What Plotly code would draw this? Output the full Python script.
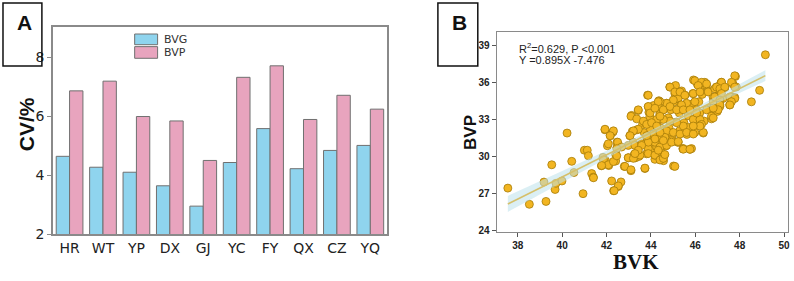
import numpy as np
import plotly.graph_objects as go

# ---------------- Panel A data ----------------
regions = ["HR", "WT", "YP", "DX", "GJ", "YC", "FY", "QX", "CZ", "YQ"]
bvg = [4.64, 4.27, 4.10, 3.64, 2.95, 4.43, 5.58, 4.22, 4.84, 5.01]
bvp_cv = [6.86, 7.19, 5.99, 5.84, 4.50, 7.32, 7.71, 5.89, 6.71, 6.24]
a_yticks = [2, 4, 6, 8]

# ---------------- Panel B data ----------------
bvk = [37.55, 38.52, 39.27, 39.18, 39.53, 39.68, 39.72, 39.99, 40.22, 40.43,
       40.53, 40.94, 41.00, 41.13, 41.18, 41.33, 41.40, 41.77, 41.84, 41.93,
       41.95, 42.04, 42.10, 42.17, 42.29, 42.23, 42.32, 42.41, 42.47, 42.47,
       42.53, 42.65, 42.41, 42.80, 42.98, 43.05, 43.10, 43.13, 43.16, 43.20,
       43.25, 43.31, 43.37, 43.43, 43.46, 43.43, 43.62, 43.70, 43.73, 43.76,
       43.80, 43.85, 43.88, 43.91, 43.95, 43.98, 44.03, 44.06, 44.12, 44.18,
       44.18, 44.26, 44.32, 44.36, 44.40, 44.45, 44.48, 44.55, 44.57, 44.60,
       44.63, 44.67, 44.70, 44.78, 44.81, 44.85, 44.90, 44.93, 44.96, 45.02,
       45.05, 45.08, 45.11, 45.15, 45.20, 45.23, 45.28, 45.30, 45.35, 45.38,
       45.44, 45.49, 45.53, 45.56, 45.62, 45.68, 45.76, 45.80, 45.83, 45.89,
       45.92, 45.95, 45.98, 46.05, 46.10, 46.16, 46.20, 46.25, 46.31, 46.36,
       46.40, 46.43, 46.50, 46.58, 46.65, 46.73, 46.80, 46.88, 46.95, 46.99,
       47.06, 47.10, 47.15, 47.21, 47.25, 47.33, 47.55, 47.63, 47.70, 47.78,
       47.85, 47.81, 48.53, 48.90, 49.16,
       45.98, 46.28, 46.51, 46.13, 44.86, 45.08, 45.31, 45.53, 45.91, 46.21,
       46.58, 46.88, 47.18, 47.26, 47.03, 46.96, 46.81, 47.11, 46.66, 46.51,
       46.73, 46.36, 45.91, 46.21, 45.61, 45.38, 45.01, 44.71, 44.41, 44.33,
       44.56, 44.86, 45.16, 45.46, 45.76, 45.98, 46.06, 46.28, 45.68, 45.46,
       45.16, 44.86, 44.56, 44.26, 44.41, 44.71, 45.01, 45.31, 45.61, 45.91,
       45.23, 44.93, 44.63, 44.33, 44.26, 44.56, 45.46, 45.83, 46.21, 45.91,
       43.88, 43.43, 43.10, 43.36, 43.88, 43.96, 44.33, 44.18, 44.41, 43.66,
       43.81, 44.03, 44.26, 43.43, 43.21, 43.06, 41.93, 42.31, 42.16, 42.50,
       42.08, 42.98, 43.28, 43.58, 43.81, 44.11, 44.41, 44.18, 44.41, 43.88,
       42.68,
       47.78, 47.63, 47.18, 46.96, 47.11, 47.33, 47.78, 46.88, 47.18, 47.56,
       47.78, 47.63, 47.11, 47.56, 47.11, 47.03, 46.81, 46.81,
       42.46, 41.86, 42.08, 41.78, 42.31, 42.46, 41.41, 42.83, 43.10, 43.73,
       45.08, 42.53, 42.34, 42.98, 43.21, 43.51, 43.88, 44.18, 44.41, 44.56,
       44.63, 44.33, 45.46, 45.76, 44.71, 44.18, 43.88, 43.58, 43.43, 43.28,
       43.81, 44.56, 44.93, 45.23]
bvp = [27.41, 26.10, 26.33, 27.90, 29.30, 27.30, 27.80, 27.99, 31.87, 29.58,
       28.67, 26.96, 30.48, 30.48, 30.03, 28.59, 28.30, 29.22, 29.90, 32.13,
       29.64, 30.84, 29.24, 31.66, 31.95, 27.99, 27.20, 30.14, 31.13, 30.69,
       27.54, 27.91, 29.60, 29.17, 29.87, 31.66, 28.82, 33.30, 32.00, 31.13,
       30.13, 29.87, 32.13, 30.82, 29.98, 33.70, 32.55, 31.90, 29.00, 32.66,
       30.19, 34.94, 34.00, 33.55, 33.18, 32.18, 31.34, 30.60, 34.10, 29.74,
       30.08, 32.63, 31.13, 34.49, 33.39, 30.35, 32.23, 33.76, 29.63, 30.08,
       31.66, 30.82, 34.28, 33.10, 32.32, 35.60, 33.76, 31.87, 31.40, 29.20,
       34.40, 35.07, 35.72, 32.76, 31.13, 34.67, 33.50, 32.06, 34.15, 35.28,
       30.60, 32.70, 34.94, 33.76, 31.76, 33.28, 30.55, 32.32, 34.21, 35.07,
       36.17, 32.92, 31.92, 33.76, 35.80, 34.40, 33.50, 35.65, 35.00, 31.87,
       32.84, 35.98, 35.72, 35.28, 33.76, 33.02, 34.80, 33.76, 35.60, 33.62,
       35.07, 34.15, 35.90, 35.65, 34.67, 35.54, 34.15, 34.80, 35.85, 34.75,
       35.60, 36.46, 34.40, 35.33, 38.21,
       36.11, 35.98, 35.85, 35.72, 35.59, 35.20, 35.20, 34.93, 35.07, 35.20,
       35.20, 35.46, 35.98, 35.59, 35.59, 34.80, 34.41, 34.02, 33.88, 33.75,
       33.23, 31.92, 32.97, 32.97, 34.28, 34.15, 34.54, 34.28, 34.41, 34.02,
       33.75, 34.02, 33.75, 33.75, 33.75, 34.41, 33.49, 32.57, 32.31, 32.44,
       32.71, 32.84, 32.97, 32.97, 32.31, 32.05, 31.92, 31.79, 31.92, 31.79,
       31.13, 31.26, 31.52, 31.52, 30.74, 30.87, 30.61, 30.61, 32.44, 32.44,
       34.93, 33.75, 33.23, 33.02, 34.02, 33.49, 34.41, 33.88, 33.23, 32.84,
       32.57, 32.71, 32.44, 32.18, 32.05, 31.66, 32.18, 32.05, 31.66, 31.13,
       31.00, 30.87, 30.87, 31.00, 31.52, 31.79, 31.92, 31.13, 30.74, 30.61,
       30.74,
       36.51, 35.98, 35.98, 35.59, 35.46, 35.59, 35.59, 34.80, 35.07, 34.80,
       34.67, 34.41, 34.54, 34.15, 34.15, 33.76, 33.89, 33.10,
       30.61, 29.69, 29.30, 29.24, 29.56, 30.03, 28.25, 29.17, 28.90, 29.03,
       29.17, 27.59, 27.20, 29.87, 29.82, 30.08, 30.21, 30.08, 29.69, 29.82,
       30.13, 30.48, 30.56, 30.56, 30.87, 31.39, 31.13, 30.87, 30.48, 30.21,
       31.66, 31.26, 31.13, 31.18]
slope, intercept = 0.895, -7.476
b_xticks = [38, 40, 42, 44, 46, 48, 50]
b_yticks = [24, 27, 30, 33, 36, 39]

W, H = 794, 281
def px(x):
    return x / W
def py(y):
    return 1 - y / H

fig = go.Figure()

# ---- Panel A bars ----
fig.add_trace(go.Bar(x=regions, y=bvg, name="BVG", marker=dict(color="#8fd4ee", line=dict(color="#707070", width=1)),
                     xaxis="x", yaxis="y", showlegend=False))
fig.add_trace(go.Bar(x=regions, y=bvp_cv, name="BVP", marker=dict(color="#e8a4be", line=dict(color="#707070", width=1)),
                     xaxis="x", yaxis="y", showlegend=False))

# ---- Panel B scatter ----
xa = np.array(bvk)
ya = np.array(bvp)
fig.add_trace(go.Scatter(x=bvk, y=bvp, mode="markers",
                         marker=dict(size=8, color="#f2b521", line=dict(color="#a67c0a", width=0.8)),
                         xaxis="x2", yaxis="y2", showlegend=False))

# regression line and confidence band
n = len(xa)
resid = ya - (slope * xa + intercept)
s = np.sqrt(np.sum(resid ** 2) / (n - 2))
xbar = xa.mean()
sxx = np.sum((xa - xbar) ** 2)
xg = np.linspace(xa.min(), xa.max(), 60)
yg = slope * xg + intercept
hw = 1.97 * s * np.sqrt(1.0 / n + (xg - xbar) ** 2 / sxx)
fig.add_trace(go.Scatter(x=np.concatenate([xg, xg[::-1]]), y=np.concatenate([yg + hw, (yg - hw)[::-1]]),
                         fill="toself", fillcolor="rgba(190,225,235,0.55)", line=dict(width=0),
                         mode="lines", hoverinfo="skip", xaxis="x2", yaxis="y2", showlegend=False))
fig.add_trace(go.Scatter(x=xg, y=yg, mode="lines", line=dict(color="#d6c06a", width=1.6),
                         xaxis="x2", yaxis="y2", showlegend=False))

axcol = "#8a8a8a"
fig.update_layout(
    width=W, height=H, margin=dict(l=0, r=0, t=0, b=0),
    paper_bgcolor="white", plot_bgcolor="white",
    barmode="group", bargap=0.2, bargroupgap=0,
    xaxis=dict(domain=[px(53), px(388)], anchor="y", range=[-0.5, 9.5], showline=True, mirror=True,
               linecolor=axcol, linewidth=1.5, ticks="", showgrid=False,
               tickfont=dict(family="DejaVu Sans", size=14, color="#222")),
    yaxis=dict(domain=[py(241), py(28)], anchor="x", range=[2, 9.02], tickvals=a_yticks, showline=True, mirror=True,
               linecolor=axcol, linewidth=1.5, ticks="outside", ticklen=4, tickcolor=axcol, showgrid=False,
               zeroline=False, tickfont=dict(family="DejaVu Sans", size=14, color="#222")),
    xaxis2=dict(domain=[px(498), px(790)], anchor="y2", range=[37.05, 50.18], tickvals=b_xticks, showline=True,
                mirror=True, linecolor=axcol, linewidth=1.2, ticks="outside", ticklen=4, tickcolor="#555",
                showgrid=False, zeroline=False,
                tickfont=dict(family="Liberation Sans", size=10, color="#222", weight="bold")),
    yaxis2=dict(domain=[py(239), py(33)], anchor="x2", range=[23.84, 40.05], tickvals=b_yticks, showline=True,
                mirror=True, linecolor=axcol, linewidth=1.2, ticks="outside", ticklen=4, tickcolor="#555",
                showgrid=False, zeroline=False,
                tickfont=dict(family="Liberation Sans", size=10, color="#222", weight="bold")),
)

shapes = []
# panel label boxes
shapes.append(dict(type="rect", xref="paper", yref="paper", x0=px(3), x1=px(42), y0=py(68), y1=py(3),
                   line=dict(color="#111", width=1.5)))
shapes.append(dict(type="rect", xref="paper", yref="paper", x0=px(439), x1=px(479), y0=py(68), y1=py(3),
                   line=dict(color="#111", width=1.5)))
# legend swatches
shapes.append(dict(type="rect", xref="paper", yref="paper", x0=px(135), x1=px(158), y0=py(46), y1=py(35),
                   fillcolor="#8fd4ee", line=dict(color="#707070", width=1)))
shapes.append(dict(type="rect", xref="paper", yref="paper", x0=px(135), x1=px(158), y0=py(60), y1=py(48),
                   fillcolor="#e8a4be", line=dict(color="#707070", width=1)))
fig.update_layout(shapes=shapes)

ann = [
    dict(text="<b>A</b>", x=px(25), y=py(23), font=dict(family="Liberation Sans", size=21, color="#111")),
    dict(text="<b>B</b>", x=px(461), y=py(23), font=dict(family="Liberation Sans", size=21, color="#111")),
    dict(text="BVG", x=px(162), y=py(40.5), xanchor="left", font=dict(family="DejaVu Sans", size=11, color="#333")),
    dict(text="BVP", x=px(162), y=py(54), xanchor="left", font=dict(family="DejaVu Sans", size=11, color="#333")),
    dict(text="<b>CV/%</b>", x=px(26), y=py(128), textangle=-90, font=dict(family="Liberation Sans", size=21, color="#111")),
    dict(text="<b>BVP</b>", x=px(471), y=py(136), textangle=-90, font=dict(family="Liberation Sans", size=17, color="#111")),
    dict(text="<b>BVK</b>", x=px(638), y=py(270), font=dict(family="Liberation Serif", size=21, color="#111")),
    dict(text="R<sup>2</sup>=0.629, P <0.001", x=px(518), y=py(49), xanchor="left",
         font=dict(family="Liberation Sans", size=11, color="#222")),
    dict(text="Y =0.895X -7.476", x=px(518), y=py(62), xanchor="left",
         font=dict(family="Liberation Sans", size=11, color="#222")),
]
for a in ann:
    a.update(xref="paper", yref="paper", showarrow=False)
    a.setdefault("xanchor", "center")
    a.setdefault("yanchor", "middle")
fig.update_layout(annotations=ann)

fig.write_html("out.html")
